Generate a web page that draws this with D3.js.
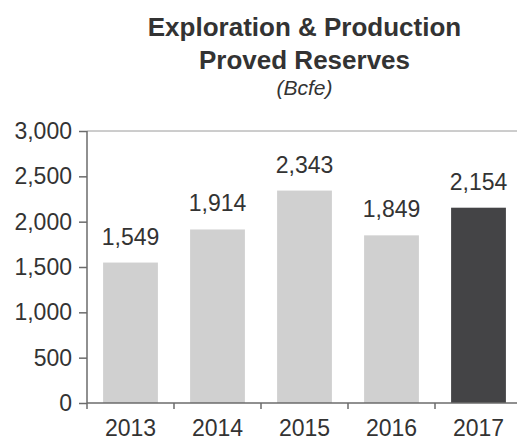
<!DOCTYPE html>
<html>
<head>
<meta charset="utf-8">
<script src="https://cdn.jsdelivr.net/npm/d3@7"></script>
<style>
  html, body { margin: 0; padding: 0; background: #fff; }
  svg { display: block; font-family: "Liberation Sans", Arial, Helvetica, sans-serif; }
</style>
</head>
<body>
<svg id="chart" width="517" height="441"></svg>
<script>
// Proved reserves by year, in Bcfe
const years = ["2013", "2014", "2015", "2016", "2017"];
const reserves = [1549, 1914, 2343, 1849, 2154];
const yTicks = [0, 500, 1000, 1500, 2000, 2500, 3000];
const titleLines = ["Exploration & Production", "Proved Reserves"];
const unitLabel = "(Bcfe)";

const data = years.map((y, i) => ({ year: y, value: reserves[i] }));

const svg = d3.select("#chart");
const plotLeft = 87, plotRight = 522, plotTop = 131, plotBottom = 403;

const x = d3.scaleBand()
  .domain(years)
  .range([plotLeft, plotRight])
  .paddingInner(0.37)
  .paddingOuter(0.185);

const y = d3.scaleLinear()
  .domain([0, 3000])
  .range([plotBottom, plotTop]);

const axisColor = "#6b6b6b";
const textColor = "#333333";
const labelSize = 23;

// Title
const title = svg.append("g")
  .attr("text-anchor", "middle")
  .attr("fill", textColor);
title.selectAll("text.title")
  .data(titleLines)
  .join("text")
  .attr("class", "title")
  .attr("x", (plotLeft + plotRight) / 2)
  .attr("y", (d, i) => 36 + i * 33)
  .attr("font-size", 26)
  .attr("font-weight", "bold")
  .text(d => d);
title.append("text")
  .attr("x", (plotLeft + plotRight) / 2)
  .attr("y", 95)
  .attr("font-size", 21)
  .attr("font-style", "italic")
  .text(unitLabel);

// Bars
svg.append("g")
  .selectAll("rect")
  .data(data)
  .join("rect")
  .attr("x", d => x(d.year))
  .attr("y", d => y(d.value))
  .attr("width", x.bandwidth())
  .attr("height", d => y(0) - y(d.value))
  .attr("fill", (d, i) => i === data.length - 1 ? "#444446" : "#d0d0d0");

// Value labels
svg.append("g")
  .selectAll("text")
  .data(data)
  .join("text")
  .attr("x", d => x(d.year) + x.bandwidth() / 2)
  .attr("y", d => y(d.value) - 18)
  .attr("text-anchor", "middle")
  .attr("font-size", labelSize)
  .attr("fill", textColor)
  .text(d => d3.format(",")(d.value));

// Top frame line at the axis maximum
svg.append("line")
  .attr("x1", plotLeft).attr("x2", 517)
  .attr("y1", y(3000)).attr("y2", y(3000))
  .attr("stroke", "#9a9a9a").attr("stroke-width", 1);

// Y axis
const yAxis = svg.append("g")
  .attr("transform", `translate(${plotLeft},0)`)
  .call(d3.axisLeft(y).tickValues(yTicks).tickSize(8).tickPadding(7).tickFormat(d3.format(",")));
yAxis.select(".domain").remove();
yAxis.selectAll(".tick line").attr("stroke", axisColor).attr("stroke-width", 1.5);
yAxis.selectAll(".tick text")
  .attr("font-size", labelSize)
  .attr("font-family", "Liberation Sans, Arial, sans-serif")
  .attr("fill", textColor);
yAxis.append("line")
  .attr("x1", 0).attr("x2", 0)
  .attr("y1", y(3000)).attr("y2", y(0) + 6)
  .attr("stroke", axisColor).attr("stroke-width", 1.5);

// X axis
const xAxis = svg.append("g")
  .attr("transform", `translate(0,${plotBottom})`)
  .call(d3.axisBottom(x).tickSize(0).tickPadding(17));
xAxis.select(".domain").remove();
xAxis.selectAll(".tick text")
  .attr("font-size", labelSize)
  .attr("font-family", "Liberation Sans, Arial, sans-serif")
  .attr("fill", textColor);
xAxis.append("line")
  .attr("x1", plotLeft).attr("x2", 517)
  .attr("y1", 0).attr("y2", 0)
  .attr("stroke", axisColor).attr("stroke-width", 1.5);
// Separator ticks between categories
const gap = x.step() * x.paddingInner();
xAxis.selectAll("line.sep")
  .data(years.slice(0, -1))
  .join("line")
  .attr("class", "sep")
  .attr("x1", d => x(d) + x.bandwidth() + gap / 2)
  .attr("x2", d => x(d) + x.bandwidth() + gap / 2)
  .attr("y1", 0).attr("y2", 6)
  .attr("stroke", axisColor).attr("stroke-width", 1.5);
</script>
</body>
</html>
